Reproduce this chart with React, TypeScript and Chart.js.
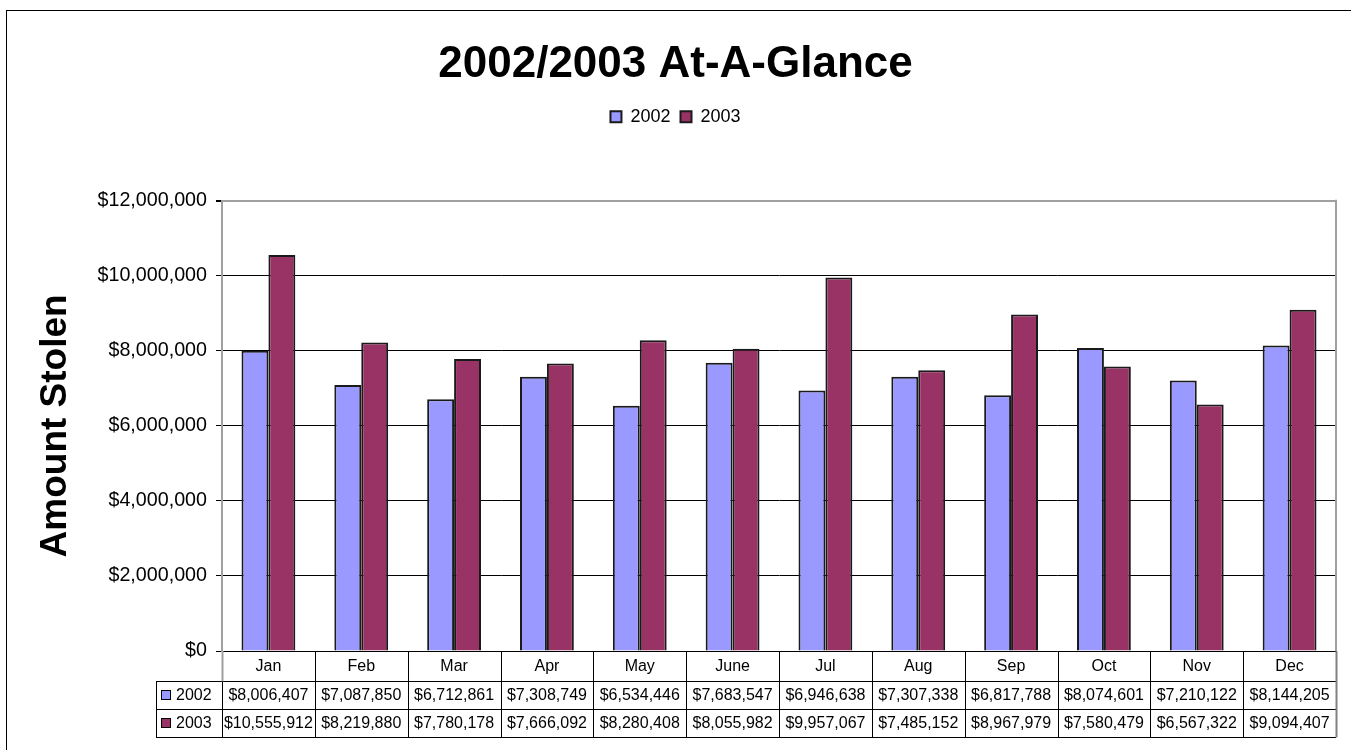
import React, { useEffect, useRef } from "react";
import { Chart, registerables } from "chart.js";

Chart.register(...registerables);

const FONT = "'Liberation Sans', Arial, Helvetica, sans-serif";

const months = ["Jan", "Feb", "Mar", "Apr", "May", "June", "Jul", "Aug", "Sep", "Oct", "Nov", "Dec"];
const seriesNames = ["2002", "2003"];
const values2002 = [8006407, 7087850, 6712861, 7308749, 6534446, 7683547, 6946638, 7307338, 6817788, 8074601, 7210122, 8144205];
const values2003 = [10555912, 8219880, 7780178, 7666092, 8280408, 8055982, 9957067, 7485152, 8967979, 7580479, 6567322, 9094407];
const seriesColors = ["#9999FF", "#993366"];
const yMin = 0;
const yMax = 12000000;
const yStep = 2000000;
const chartTitle = "2002/2003 At-A-Glance";
const yTitle = "Amount Stolen";

const money = (v: number) => "$" + Number(v).toLocaleString("en-US");

const px = (v: number) => Math.round(v) + 0.5;

const tablePlugin = {
  id: "dataTable",
  afterDraw(chart: any) {
    const { ctx, chartArea } = chart;
    const xs = chart.scales.x;
    const n = chart.data.labels.length;
    const top = chartArea.bottom;
    const r1 = top + 30;
    const r2 = r1 + 28;
    const r3 = r2 + 28;
    const left = 156;
    const edges: number[] = [];
    for (let i = 0; i <= n; i++) {
      if (i === 0) edges.push(chartArea.left);
      else if (i === n) edges.push(chartArea.right);
      else edges.push((xs.getPixelForValue(i - 1) + xs.getPixelForValue(i)) / 2);
    }
    const line = (x1: number, y1: number, x2: number, y2: number, color: string, w = 1) => {
      ctx.beginPath();
      ctx.strokeStyle = color;
      ctx.lineWidth = w;
      ctx.moveTo(x1, y1);
      ctx.lineTo(x2, y2);
      ctx.stroke();
    };
    ctx.save();
    [r1, r2, r3].forEach((y) => line(left, px(y), chartArea.right, px(y), "#000"));
    line(px(left), px(r1), px(left), px(r3), "#000");
    line(px(edges[0]), top, px(edges[0]), px(r1), "#a0a0a0", 2);
    line(px(edges[0]), px(r1), px(edges[0]), px(r3), "#000");
    for (let i = 1; i < n; i++) line(px(edges[i]), top, px(edges[i]), px(r3), "#000");
    line(px(edges[n]), top, px(edges[n]), px(r3), "#808080", 2);

    ctx.fillStyle = "#000";
    ctx.font = "16px " + FONT;
    ctx.textAlign = "center";
    ctx.textBaseline = "middle";
    const rows = chart.data.datasets.map((d: any) => d.data);
    for (let i = 0; i < n; i++) {
      const cx = xs.getPixelForValue(i);
      ctx.fillText(chart.data.labels[i], cx, (top + r1) / 2 + 1);
      ctx.fillText(money(rows[0][i]), cx, (r1 + r2) / 2 + 1);
      ctx.fillText(money(rows[1][i]), cx, (r2 + r3) / 2 + 1);
    }
    const ys = [(r1 + r2) / 2, (r2 + r3) / 2];
    chart.data.datasets.forEach((d: any, k: number) => {
      const cy = ys[k];
      ctx.fillStyle = d.backgroundColor;
      ctx.fillRect(162, Math.round(cy - 4), 8, 8);
      ctx.strokeStyle = "#000";
      ctx.lineWidth = 1;
      ctx.strokeRect(161.5, Math.round(cy - 4) - 0.5, 9, 9);
      ctx.fillStyle = "#000";
      ctx.textAlign = "left";
      ctx.fillText(d.label, 176, cy + 1);
    });
    ctx.restore();
  },
};

const framePlugin = {
  id: "frame",
  afterDraw(chart: any) {
    const { ctx, chartArea } = chart;
    ctx.save();
    ctx.strokeStyle = "#000";
    ctx.lineWidth = 1;
    ctx.strokeRect(6.5, 10.5, 1360, 760);
    ctx.beginPath();
    ctx.strokeStyle = "#a0a0a0";
    ctx.lineWidth = 2;
    ctx.moveTo(Math.round(chartArea.right), chartArea.top - 1);
    ctx.lineTo(Math.round(chartArea.right), chartArea.bottom);
    ctx.stroke();
    ctx.restore();
  },
};

export default function App() {
  const ref = useRef<HTMLCanvasElement | null>(null);
  useEffect(() => {
    if (!ref.current) return;
    Chart.defaults.font.family = FONT;
    Chart.defaults.color = "#000";
    const barBase = {
      borderColor: "#1a1a1a",
      borderWidth: 2,
      categoryPercentage: 0.58,
      barPercentage: 1,
    };
    const chart = new Chart(ref.current, {
      type: "bar",
      data: {
        labels: months,
        datasets: [
          { ...barBase, label: seriesNames[0], data: values2002, backgroundColor: seriesColors[0] },
          { ...barBase, label: seriesNames[1], data: values2003, backgroundColor: seriesColors[1] },
        ],
      },
      options: {
        responsive: false,
        animation: false,
        devicePixelRatio: 1,
        layout: { padding: { top: 0, left: 0, right: 0, bottom: 99 } },
        plugins: {
          title: {
            display: true,
            text: chartTitle,
            color: "#000",
            font: { size: 44, weight: "bold", family: FONT, lineHeight: 1.2 },
            padding: { top: 38, bottom: 7 },
          },
          legend: {
            display: true,
            position: "top",
            labels: {
              color: "#000",
              font: { size: 18, family: FONT },
              boxWidth: 11,
              boxHeight: 11,
              padding: 10,
            },
          },
          subtitle: {
            display: true,
            text: "",
            weight: 100,
            font: { size: 10, lineHeight: 1 },
            padding: { top: 55, bottom: 0 },
          },
          tooltip: { enabled: false },
        },
        scales: {
          x: {
            type: "category",
            display: false,
            offset: true,
          },
          y: {
            min: yMin,
            max: yMax,
            afterFit: (scale: any) => {
              scale.width = 222;
            },
            ticks: {
              stepSize: yStep,
              color: "#000",
              font: { size: 19.7, family: FONT },
              padding: 9,
              callback: (v: any) => money(v),
            },
            grid: {
              color: (c: any) => (c.tick && c.tick.value === yMax ? "#a0a0a0" : "#000"),
              lineWidth: (c: any) => (c.tick && c.tick.value === yMax ? 2 : 1),
              tickColor: "#000",
              tickLength: 6,
              drawTicks: true,
            },
            border: { color: "#a0a0a0", width: 2 },
            title: {
              display: true,
              text: yTitle,
              color: "#000",
              font: { size: 37, weight: "bold", family: FONT, lineHeight: 1.2 },
              padding: { top: 34, bottom: 0 },
            },
          },
          yRight: {
            type: "linear",
            position: "right",
            display: true,
            min: yMin,
            max: yMax,
            afterFit: (scale: any) => {
              scale.width = 15;
            },
            ticks: { display: false },
            grid: { display: false, drawTicks: false },
            border: { display: false },
          },
        },
      },
      plugins: [tablePlugin, framePlugin],
    } as any);
    return () => chart.destroy();
  }, []);
  return (
    <div style={{ position: "absolute", left: 0, top: 0, width: 1351, height: 750, background: "#fff" }}>
      <canvas ref={ref} width={1351} height={750} style={{ display: "block" }} />
    </div>
  );
}
